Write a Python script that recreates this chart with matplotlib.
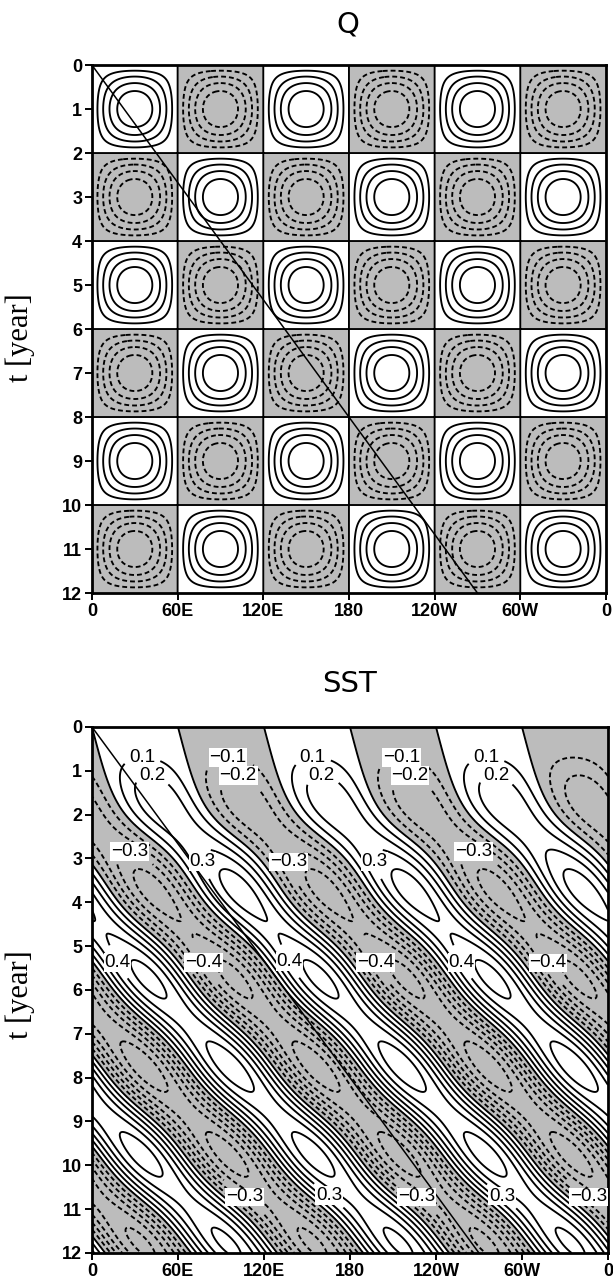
"""
Hovmoller diagrams: heat-flux forcing Q and the SST response.

Q is a standing checkerboard (wavenumber 3, period 4 yr); SST is the
damped response advected eastward, started from rest at t = 0.
Output: out.png
"""

import numpy as np
import matplotlib
matplotlib.use("Agg")
import matplotlib.pyplot as plt

LON_TICKS = [0, 60, 120, 180, 240, 300, 360]
LON_LABELS = ["0", "60E", "120E", "180", "120W", "60W", "0"]
YEAR_TICKS = list(range(13))

# diagonal reference line, (0, 0) to (270E-equivalent, 12)
LINE_LON = [0, 270]
LINE_T = [0, 12]

# forcing / response parameters estimated from the chart
WAVENUMBER = 3          # positive cells across 360 deg
PERIOD = 4.0            # yr (sign change every 2 yr)
ADV_SPEED = 24.3        # deg/yr
DAMPING = 0.2           # 1/yr
SST_SCALE = 0.31

Q_LEVELS = [-0.8, -0.6, -0.4, -0.2, 0.0, 0.2, 0.4, 0.6, 0.8]
SST_LEVELS = [-0.6, -0.5, -0.4, -0.3, -0.2, -0.1, 0.0, 0.1, 0.2, 0.3, 0.4, 0.5, 0.6]

# where the labelled contours sit on the SST panel (lon, year)
SST_LABELS = {
    0.1: [(35, 0.8), (154, 0.8), (275, 0.8)],
    -0.1: [(95, 0.8), (216, 0.8)],
    0.2: [(41, 1.3), (160, 1.3), (281, 1.3)],
    -0.2: [(101, 1.3), (221, 1.3)],
    0.3: [(82, 3.03), (202, 3.03), (166, 10.66), (287, 10.66)],
    -0.3: [(24, 3.03), (143, 3.03), (264, 3.03), (108, 10.66), (228, 10.66), (348, 10.66)],
    0.4: [(23, 5.28), (142, 5.28), (263, 5.28)],
    -0.4: [(83, 5.28), (203, 5.28), (324, 5.28)],
}

SHADE = "#bcbcbc"
TICK_FONT = ["Liberation Sans Narrow", "DejaVu Sans Condensed", "Liberation Sans"]
DASH = (0, (2.6, 1.6))

lon = np.linspace(0, 360, 1001)
yr = np.linspace(0, 12, 701)
X, Y = np.meshgrid(lon, yr)

k = WAVENUMBER * 2 * np.pi / 360.0
w = 2 * np.pi / PERIOD
lam = DAMPING
c = ADV_SPEED

q = np.sin(k * X) * np.sin(w * Y)


def steady(x, t):
    # periodic response to the eastward and westward halves of the standing Q
    east = 0.5 * np.exp(1j * (k * x - w * t)) / (lam + 1j * (k * c - w))
    west = -0.5 * np.exp(1j * (k * x + w * t)) / (lam + 1j * (k * c + w))
    return east + west


# T_t + c T_x = Q - lam T,  T(x, 0) = 0
sst = SST_SCALE * np.real(steady(X, Y) - steady(X - c * Y, 0.0) * np.exp(-lam * Y))

fig = plt.figure(figsize=(6.13, 12.83), dpi=100)
ax_q = fig.add_axes([0.150, 0.5378, 0.8385, 0.4115])
ax_s = fig.add_axes([0.150, 0.0234, 0.8418, 0.4100])


def contour_lines(ax, field, levels):
    return ax.contour(X, Y, field, levels=levels, colors="black", linewidths=1.35,
                      negative_linestyles=DASH)


def dress(ax):
    ax.plot(LINE_LON, LINE_T, color="black", lw=1.1)
    ax.set_xlim(0, 360)
    ax.set_ylim(12, 0)
    ax.set_xticks(LON_TICKS)
    ax.set_xticklabels(LON_LABELS)
    ax.set_yticks(YEAR_TICKS)
    ax.tick_params(direction="out", length=5, width=1.4, pad=2)
    for lab in ax.get_xticklabels() + ax.get_yticklabels():
        lab.set_family(TICK_FONT)
        lab.set_fontsize(13)
        lab.set_fontweight("bold")
    for sp in ax.spines.values():
        sp.set_linewidth(2.0)


# Q panel
ax_q.contourf(X, Y, q, levels=[-5, 0], colors=[SHADE])
contour_lines(ax_q, q, Q_LEVELS)
dress(ax_q)

# SST panel: labelled levels get their own contour set so each can be labelled
ax_s.contourf(X, Y, sst, levels=[-5, 0], colors=[SHADE])
plain = [lv for lv in SST_LEVELS if lv not in SST_LABELS]
contour_lines(ax_s, sst, plain)
label_texts = []
for level, spots in SST_LABELS.items():
    cs = contour_lines(ax_s, sst, [level])
    ax_s.clabel(cs, manual=spots, inline=True, inline_spacing=4,
                fmt=lambda v: f"{v:.1f}".replace("-", "\u2212"), fontsize=13.5)
    label_texts += cs.labelTexts
for t in label_texts:
    t.set_family(TICK_FONT)
    t.set_rotation(0)
    t.set_bbox(dict(facecolor="white", edgecolor="none", pad=0.6))
    t.set_clip_on(True)
dress(ax_s)

fig.text(0.568, 0.981, "Q", ha="center", va="center", fontsize=21)
fig.text(0.570, 0.467, "SST", ha="center", va="center", fontsize=21)
fig.text(0.033, 0.737, "t [year]", rotation=90, ha="center", va="center",
         fontsize=22, family=["Liberation Serif", "DejaVu Serif"])
fig.text(0.033, 0.225, "t [year]", rotation=90, ha="center", va="center",
         fontsize=22, family=["Liberation Serif", "DejaVu Serif"])

fig.savefig("out.png", dpi=100)
